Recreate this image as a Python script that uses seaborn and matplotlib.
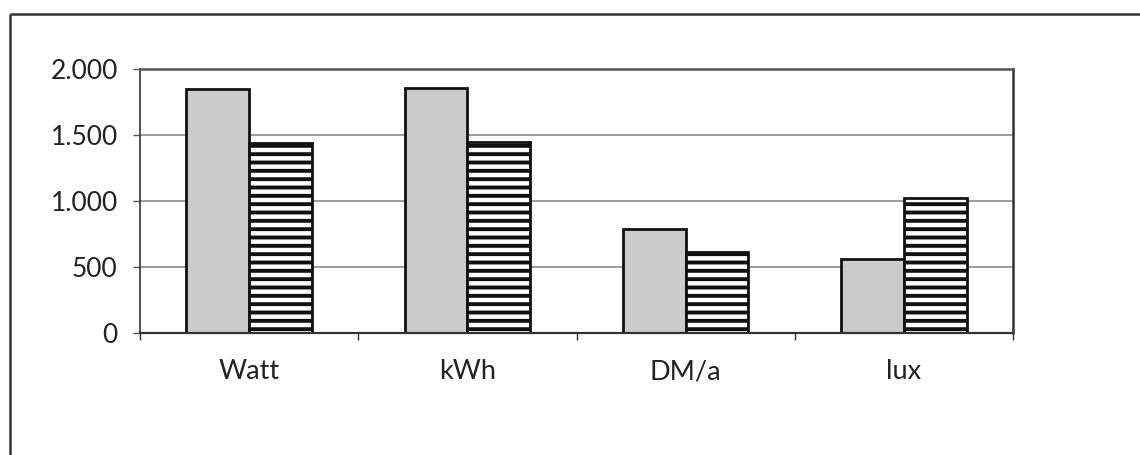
import matplotlib
matplotlib.use("Agg")
import matplotlib.pyplot as plt
from matplotlib.lines import Line2D
from matplotlib.ticker import FixedLocator, FuncFormatter
import seaborn as sns
import pandas as pd

# Values per category: existing installation vs. new installation
categories = ["Watt", "kWh", "DM/a", "lux"]
series_names = ["alt", "neu"]
values_alt = [1850, 1855, 790, 560]
values_neu = [1440, 1450, 615, 1020]
y_ticks = [0, 500, 1000, 1500, 2000]

df = pd.DataFrame({
    "Kategorie": categories * 2,
    "Serie": [series_names[0]] * len(categories) + [series_names[1]] * len(categories),
    "Wert": values_alt + values_neu,
})

sns.set_style("white")
plt.rcParams["font.family"] = ["Lato", "DejaVu Sans"]
plt.rcParams["hatch.linewidth"] = 2.8
plt.rcParams["hatch.color"] = "#111111"

fig = plt.figure(figsize=(11.4, 4.55), dpi=100)
ax = fig.add_axes([140 / 1140, 1 - 333 / 455, (1013 - 140) / 1140, (333 - 69) / 455])

sns.barplot(
    data=df, x="Kategorie", y="Wert", hue="Serie",
    order=categories, hue_order=series_names,
    palette=["#cbcbcb", "white"], width=0.575, gap=0,
    edgecolor="#111111", linewidth=2.0, legend=False, ax=ax,
)

# Horizontal stripes on the second series
n = len(categories)
for i, bar in enumerate(ax.patches):
    if i >= n:
        bar.set_hatch("--")
        bar.set_edgecolor("#111111")

ax.set_xlim(-0.5, n - 0.5)
ax.set_ylim(0, 2000)
ax.set_xlabel("")
ax.set_ylabel("")

ax.yaxis.set_major_locator(FixedLocator(y_ticks))
ax.yaxis.set_major_formatter(FuncFormatter(lambda v, p: f"{int(v):,}".replace(",", ".")))
ax.tick_params(axis="y", which="major", left=True, length=5, width=1.0,
               color="#555555", labelsize=19, pad=11, labelcolor="#222222")

# Category labels centred, tick marks on the category boundaries
ax.set_xticks(range(n))
ax.set_xticklabels(categories)
ax.set_xticks([i - 0.5 for i in range(n + 1)], minor=True)
ax.tick_params(axis="x", which="major", length=0, labelsize=19.5, pad=19, labelcolor="#222222")
ax.tick_params(axis="x", which="minor", bottom=True, length=5, width=1.0, color="#333333")

for v in y_ticks[1:-1]:
    ax.axhline(v, color="#8a8a8a", linewidth=1.2, zorder=0)

for side in ["left", "bottom", "top", "right"]:
    ax.spines[side].set_visible(True)
    ax.spines[side].set_color("#333333")
ax.spines["left"].set_linewidth(1.2)
ax.spines["bottom"].set_linewidth(1.6)
ax.spines["top"].set_linewidth(1.8)
ax.spines["right"].set_linewidth(1.8)
ax.spines["top"].set_color("#555555")

# Frame around the figure (top and left edges)
fx = 10 / 1140
fy = 1 - 14 / 455
fig.add_artist(Line2D([fx, 1.01], [fy, fy], transform=fig.transFigure, color="#333333",
                      linewidth=1.8, solid_capstyle="butt"))
fig.add_artist(Line2D([fx, fx], [-0.01, fy], transform=fig.transFigure, color="#333333",
                      linewidth=1.8, solid_capstyle="butt"))

fig.savefig("out.png", dpi=100, facecolor="white")
